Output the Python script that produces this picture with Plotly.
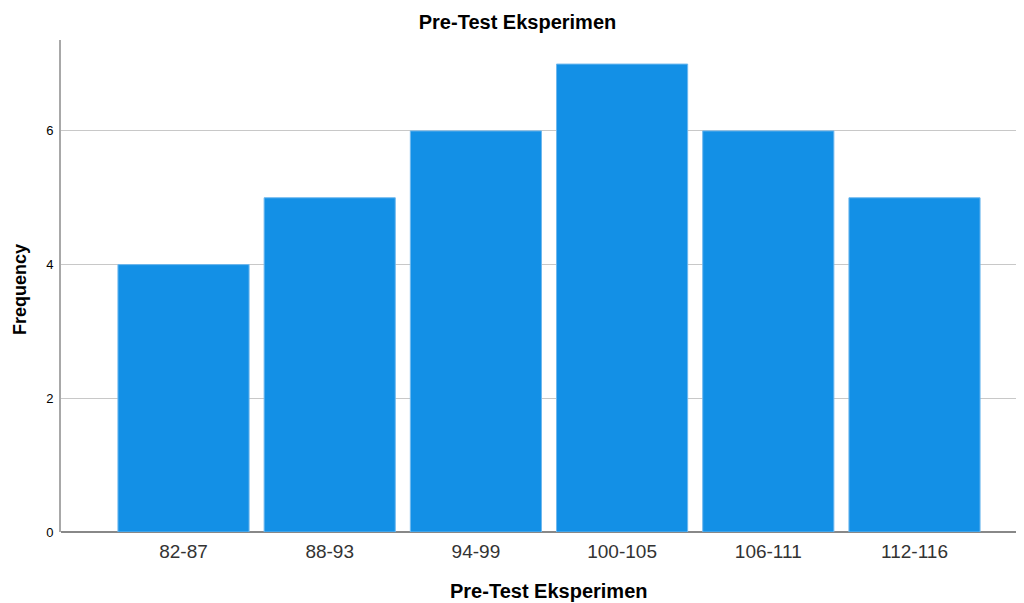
import plotly.graph_objects as go

categories = ["82-87", "88-93", "94-99", "100-105", "106-111", "112-116"]
frequency = [4, 5, 6, 7, 6, 5]
y_ticks = [0, 2, 4, 6]

fig = go.Figure()
fig.add_trace(go.Bar(
    x=categories, y=frequency,
    marker=dict(color="#1390E6", line=dict(color="#6FB8EE", width=1)),
))

fig.update_layout(
    width=1016, height=595,
    margin=dict(l=53, r=0, t=32, b=71, autoexpand=False),
    paper_bgcolor="white", plot_bgcolor="white",
    bargap=0.103,
    showlegend=False,
    font=dict(family="Liberation Sans, Arial, sans-serif", color="#000"),
    title=dict(text="<b>Pre-Test Eksperimen</b>", x=509.5/1016, xanchor="center",
               y=1 - 14/595, yanchor="middle",
               font=dict(size=20, color="#000")),
    annotations=[
        dict(text="<b>Pre-Test Eksperimen</b>", xref="paper", yref="paper",
             x=0.5, y=0, xanchor="center", yanchor="middle",
             xshift=6.5, yshift=-59, showarrow=False,
             font=dict(size=20, color="#000")),
        dict(text="<b>Frequency</b>", xref="paper", yref="paper",
             x=0, y=0.5, xanchor="center", yanchor="middle",
             xshift=-41, yshift=-4, textangle=-90, showarrow=False,
             font=dict(size=18, color="#000")),
    ],
)
fig.update_xaxes(
    range=[-0.838, 5.749],
    showline=False, showgrid=False,
    ticks="outside", ticklen=2, tickcolor="rgba(0,0,0,0)",
    tickfont=dict(size=19, color="#333"),
)
fig.update_yaxes(
    range=[0, 7.36],
    tickvals=y_ticks,
    showline=True, linecolor="#A8A8A8", linewidth=2,
    showgrid=True, gridcolor="#C8C8C8", gridwidth=1,
    zeroline=True, zerolinecolor="#888888", zerolinewidth=2,
    ticks="outside", ticklen=3, tickcolor="rgba(0,0,0,0)",
    tickfont=dict(size=13, color="#000"),
)

fig.write_html("out.html")
